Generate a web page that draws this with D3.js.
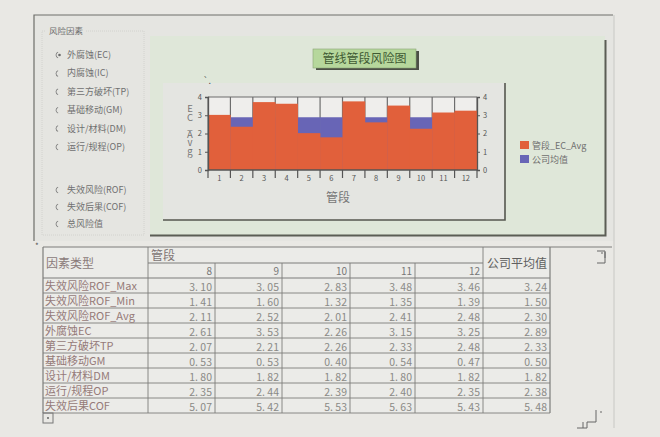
<!DOCTYPE html>
<html>
<head>
<meta charset="utf-8">
<script src="https://cdn.jsdelivr.net/npm/d3@7"></script>
<style>
  body { margin: 0; background: #e9e8e4; }
  text { font-family: "Noto Sans CJK SC", "Noto Sans", sans-serif; }
</style>
</head>
<body>
<svg id="page" width="660" height="437"></svg>
<script>
// chart data
var segments = ["1", "2", "3", "4", "5", "6", "7", "8", "9", "10", "11", "12"];
var segmentEC = [3.02, 2.37, 3.72, 3.63, 2.02, 1.79, 3.76, 2.61, 3.53, 2.26, 3.15, 3.25];
var companyEC = [2.89, 2.89, 2.89, 2.89, 2.89, 2.89, 2.89, 2.89, 2.89, 2.89, 2.89, 2.89];
var yTicks = [0, 1, 2, 3, 4];
var legendNames = ["管段_EC_Avg", "公司均值"];

// radio options on the left
var riskOptions = ["外腐蚀(EC)", "内腐蚀(IC)", "第三方破坏(TP)", "基础移动(GM)", "设计/材料(DM)", "运行/规程(OP)"];
var resultOptions = ["失效风险(ROF)", "失效后果(COF)", "总风险值"];

// table data
var factorTypes = ["失效风险ROF_Max", "失效风险ROF_Min", "失效风险ROF_Avg", "外腐蚀EC", "第三方破坏TP",
                   "基础移动GM", "设计/材料DM", "运行/规程OP", "失效后果COF"];
var tableSegments = ["8", "9", "10", "11", "12"];
var seg8 = [3.10, 1.41, 2.11, 2.61, 2.07, 0.53, 1.80, 2.35, 5.07];
var seg9 = [3.05, 1.60, 2.52, 3.53, 2.21, 0.53, 1.82, 2.44, 5.42];
var seg10 = [2.83, 1.32, 2.01, 2.26, 2.26, 0.40, 1.82, 2.39, 5.53];
var seg11 = [3.48, 1.35, 2.41, 3.15, 2.33, 0.54, 1.80, 2.40, 5.63];
var seg12 = [3.46, 1.39, 2.48, 3.25, 2.48, 0.47, 1.82, 2.35, 5.43];
var companyAvg = [3.24, 1.50, 2.30, 2.89, 2.33, 0.50, 1.82, 2.38, 5.48];

var svg = d3.select("#page");

// window frame
svg.append("rect").attr("x", 34).attr("y", 15).attr("width", 580).attr("height", 226)
  .attr("fill", "#e5e5e1");
svg.append("path").attr("d", "M34,241 V15 H613")
  .attr("fill", "none").attr("stroke", "#6e6e6a").attr("stroke-width", 1.2);
svg.append("line").attr("x1", 614).attr("x2", 614).attr("y1", 15).attr("y2", 428)
  .attr("stroke", "#c8c8c4");

// option group
var group = svg.append("g");
group.append("rect").attr("x", 42).attr("y", 31).attr("width", 102).attr("height", 204)
  .attr("fill", "none").attr("stroke", "#d2d2ce").attr("stroke-dasharray", "1,1");
group.append("rect").attr("x", 46).attr("y", 25).attr("width", 40).attr("height", 11).attr("fill", "#e5e5e1");
group.append("text").attr("x", 49).attr("y", 34).attr("font-size", 8.5).attr("fill", "#6f6f6f").text("风险因素");

var optY = d3.scaleLinear().domain([0, 5]).range([58, 150]);
var resY = d3.scaleLinear().domain([0, 2]).range([193, 227]);

function radio(g, y, label, checked) {
  g.append("path")
    .attr("d", d3.arc()({innerRadius: 2.6, outerRadius: 3.4, startAngle: -0.3, endAngle: -Math.PI + 0.3}))
    .attr("transform", "translate(59," + (y - 3) + ")")
    .attr("fill", "#7a7a7a");
  if (checked) {
    g.append("circle").attr("cx", 59.5).attr("cy", y - 3).attr("r", 1.3).attr("fill", "#6a6a6a");
  }
  g.append("text").attr("x", 67).attr("y", y).attr("font-size", 9).attr("fill", "#707070").text(label);
}
riskOptions.forEach(function (d, i) { radio(group, optY(i), d, i == 0); });
resultOptions.forEach(function (d, i) { radio(group, resY(i), d, false); });

// chart panel
svg.append("rect").attr("x", 150).attr("y", 36).attr("width", 455).attr("height", 199)
  .attr("fill", "#dfe7d9");
svg.append("path").attr("d", "M150,235.5 H605.5 V40")
  .attr("fill", "none").attr("stroke", "#5b5d55").attr("stroke-width", 2);

// inner chart box
svg.append("rect").attr("x", 163).attr("y", 83).attr("width", 342).attr("height", 137)
  .attr("fill", "#e4e5e1");
svg.append("path").attr("d", "M163,220 H505 V83")
  .attr("fill", "none").attr("stroke", "#55574f").attr("stroke-width", 1.6);

// title box
svg.append("rect").attr("x", 316).attr("y", 51).attr("width", 103).attr("height", 19).attr("fill", "#4c5046");
svg.append("rect").attr("x", 313).attr("y", 49).attr("width", 103).attr("height", 19)
  .attr("fill", "#b6d79c").attr("stroke", "#8aa476").attr("stroke-width", 0.6);
svg.append("text").attr("x", 364.5).attr("y", 63).attr("text-anchor", "middle")
  .attr("font-size", 12).attr("fill", "#3f5a33").text("管线管段风险图");

// plot
var x = d3.scaleBand().domain(segments).range([208, 477]).padding(0);
var y = d3.scaleLinear().domain([0, 4]).range([170, 97]);

var plot = svg.append("g");
plot.append("rect").attr("x", x.range()[0]).attr("y", y(4))
  .attr("width", x.range()[1] - x.range()[0]).attr("height", y(0) - y(4))
  .attr("fill", "#efeeec");

var boundaries = segments.map(function (d) { return x(d); }).concat([x.range()[1]]);
plot.selectAll(".vgrid").data(boundaries).enter().append("line")
  .attr("x1", function (d) { return d; }).attr("x2", function (d) { return d; })
  .attr("y1", y(4)).attr("y2", y(0))
  .attr("stroke", "#6d6d6d").attr("stroke-width", 1.2);
plot.append("line").attr("x1", x.range()[0]).attr("x2", x.range()[1])
  .attr("y1", y(4)).attr("y2", y(4)).attr("stroke", "#6d6d6d").attr("stroke-width", 1.2);

plot.selectAll(".avg").data(companyEC).enter().append("rect")
  .attr("x", function (d, i) { return x(segments[i]); })
  .attr("y", function (d) { return y(d); })
  .attr("width", x.bandwidth() + 0.3)
  .attr("height", function (d) { return y(0) - y(d); })
  .attr("fill", "#6865b6");

plot.selectAll(".seg").data(segmentEC).enter().append("rect")
  .attr("x", function (d, i) { return x(segments[i]); })
  .attr("y", function (d) { return y(d); })
  .attr("width", x.bandwidth() + 0.3)
  .attr("height", function (d) { return y(0) - y(d); })
  .attr("fill", "#e1603b");

// axes
var leftAxis = plot.append("g").attr("transform", "translate(208,0)")
  .call(d3.axisLeft(y).tickValues(yTicks).tickSize(3).tickPadding(3).tickFormat(d3.format("d")));
var rightAxis = plot.append("g").attr("transform", "translate(477,0)")
  .call(d3.axisRight(y).tickValues(yTicks).tickSize(3).tickPadding(3).tickFormat(d3.format("d")));
var bottomAxis = plot.append("g").attr("transform", "translate(0,170)")
  .call(d3.axisBottom(x).tickSize(0).tickPadding(6));

[leftAxis, rightAxis, bottomAxis].forEach(function (a) {
  a.select(".domain").attr("stroke", "#555").attr("stroke-width", 1.3);
  a.selectAll(".tick line").attr("stroke", "#555");
  a.selectAll(".tick text").attr("font-size", 7.5).attr("fill", "#555")
    .attr("font-family", "Liberation Serif, serif");
});
bottomAxis.selectAll(".domain").attr("d", "M208,0 H477");

plot.selectAll(".xtick").data(boundaries).enter().append("line")
  .attr("x1", function (d) { return d; }).attr("x2", function (d) { return d; })
  .attr("y1", 170).attr("y2", 178)
  .attr("stroke", "#555").attr("stroke-width", 1.2);

plot.append("text").attr("x", 338).attr("y", 202).attr("text-anchor", "middle")
  .attr("font-size", 12).attr("fill", "#777").text("管段");

// y title, letters stacked upright
plot.append("text").attr("x", 190).attr("y", 104)
  .style("writing-mode", "vertical-rl").style("text-orientation", "upright")
  .style("letter-spacing", "-1px")
  .attr("font-size", 9.5).attr("fill", "#777")
  .attr("font-family", "Liberation Serif, serif")
  .text("EC_Avg");
plot.append("text").attr("x", 203).attr("y", 84).attr("font-size", 9).attr("fill", "#555").text("`.");

// legend
var legendColors = ["#e1603b", "#6865b6"];
var legend = svg.append("g");
legendNames.forEach(function (d, i) {
  legend.append("rect").attr("x", 520).attr("y", 141 + i * 14).attr("width", 9).attr("height", 8)
    .attr("fill", legendColors[i]);
  legend.append("text").attr("x", 532).attr("y", 149 + i * 14).attr("font-size", 9)
    .attr("fill", "#6f6f6f").text(d);
});

// table
var colEdges = [43, 148, 215, 282, 350, 415, 483, 550];
var rowTop = 278, rowH = 15;
var columns = [seg8, seg9, seg10, seg11, seg12, companyAvg];
var table = svg.append("g");
var lineColor = "#7d7d7b";

table.append("rect").attr("x", 43).attr("y", 247).attr("width", 507).attr("height", 166)
  .attr("fill", "#ebebe8");

// horizontal lines
table.append("line").attr("x1", 43).attr("x2", 612).attr("y1", 247).attr("y2", 247).attr("stroke", lineColor);
table.append("line").attr("x1", 148).attr("x2", 483).attr("y1", 263).attr("y2", 263).attr("stroke", lineColor);
d3.range(factorTypes.length + 1).forEach(function (i) {
  table.append("line").attr("x1", 43).attr("x2", 550)
    .attr("y1", rowTop + i * rowH).attr("y2", rowTop + i * rowH)
    .attr("stroke", lineColor).attr("stroke-width", i == 0 ? 1.2 : 0.9);
});
// vertical lines
colEdges.forEach(function (cx, i) {
  var top = (i == 0 || i == 1 || i == 6 || i == 7) ? 247 : 263;
  table.append("line").attr("x1", cx).attr("x2", cx)
    .attr("y1", top).attr("y2", rowTop + factorTypes.length * rowH)
    .attr("stroke", lineColor).attr("stroke-width", i == 0 || i == 7 ? 1.2 : 0.9);
});

table.append("text").attr("x", 46).attr("y", 268).attr("font-size", 12).attr("fill", "#8a7a7a").text("因素类型");
table.append("text").attr("x", 151).attr("y", 260).attr("font-size", 12).attr("fill", "#807575").text("管段");
table.append("text").attr("x", 517).attr("y", 268).attr("text-anchor", "middle")
  .attr("font-size", 12).attr("fill", "#5f5f5f").text("公司平均值");

tableSegments.forEach(function (d, i) {
  table.append("text").attr("x", colEdges[i + 2] - 3).attr("y", 274.5).attr("text-anchor", "end")
    .attr("font-size", 10).attr("fill", "#777").attr("font-family", "Liberation Serif, serif").text(d);
});

factorTypes.forEach(function (d, r) {
  table.append("text").attr("x", 45).attr("y", rowTop + r * rowH + 12)
    .attr("font-size", 11).attr("fill", "#957a78").text(d);
  columns.forEach(function (col, c) {
    table.append("text").attr("x", colEdges[c + 2] - 3).attr("y", rowTop + r * rowH + 12.5)
      .attr("text-anchor", "end").attr("font-size", 10.5).attr("fill", "#8a8a86")
      .attr("font-family", "Liberation Serif, serif")
      .text(d3.format(".2f")(col[r]).replace(".", ". "));
  });
});

// scroll bits
table.append("text").attr("x", 35).attr("y", 249).attr("font-size", 8).attr("fill", "#555").text("*");
table.append("rect").attr("x", 43).attr("y", 413).attr("width", 10).attr("height", 10)
  .attr("fill", "none").attr("stroke", "#777");
table.append("circle").attr("cx", 48).attr("cy", 418).attr("r", 0.9).attr("fill", "#555");
table.append("path").attr("d", "M597,251 H605 V258 M597,263 H605 V252")
  .attr("fill", "none").attr("stroke", "#666");
table.append("circle").attr("cx", 602).attr("cy", 253).attr("r", 0.8).attr("fill", "#555");
table.append("path").attr("d", "M577,428 H587 V422 H596 V410 M583,422 V428")
  .attr("fill", "none").attr("stroke", "#666");
table.append("circle").attr("cx", 601).attr("cy", 412).attr("r", 0.8).attr("fill", "#555");
</script>
</body>
</html>
